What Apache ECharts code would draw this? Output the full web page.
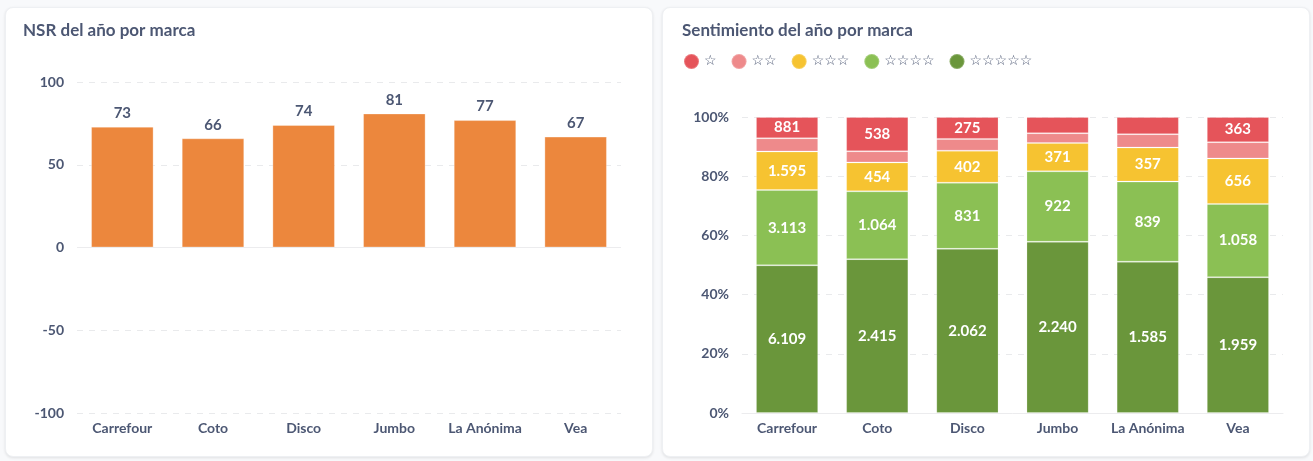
<!DOCTYPE html>
<html>
<head>
<meta charset="utf-8">
<script src="https://cdn.jsdelivr.net/npm/echarts@6/dist/echarts.min.js"></script>
<style>
  html, body { margin: 0; padding: 0; width: 1313px; height: 461px; overflow: hidden; background: #f8f9fb; font-family: Lato, sans-serif; }
  .card { position: absolute; top: 7px; width: 648px; height: 450px; background: #fff; border-radius: 8px;
          box-shadow: 0 1px 3px rgba(0,0,0,0.10); border: 1px solid #eef0f3; box-sizing: border-box; }
  #c1 { left: 5px; }
  #c2 { left: 662px; }
  .chart { position: absolute; left: -1px; top: -1px; width: 648px; height: 450px; }
</style>
</head>
<body>
<div class="card" id="c1"><div class="chart" id="left"></div></div>
<div class="card" id="c2"><div class="chart" id="right"></div></div>
<script>
const categories = ['Carrefour', 'Coto', 'Disco', 'Jumbo', 'La Anónima', 'Vea'];
const nsr = [73, 66, 74, 81, 77, 67];
const nsrTicks = [-100, -50, 0, 50, 100];

const starNames = ['☆', '☆☆', '☆☆☆', '☆☆☆☆', '☆☆☆☆☆'];
const star1 = [881, 538, 275, 212, 180, 363];
const star2 = [545, 175, 148, 128, 140, 235];
const star3 = [1595, 454, 402, 371, 357, 656];
const star4 = [3113, 1064, 831, 922, 839, 1058];
const star5 = [6109, 2415, 2062, 2240, 1585, 1959];
const pctTicks = [0, 20, 40, 60, 80, 100];

const textColor = '#4C5773';
const font = 'Lato, sans-serif';
function fmt(n) { return String(n).replace(/\B(?=(\d{3})+(?!\d))/g, '.'); }

// ---------- Left chart ----------
const left = echarts.init(document.getElementById('left'), null, { renderer: 'canvas' });
left.setOption({
  animation: false,
  textStyle: { fontFamily: font },
  title: { text: 'NSR del año por marca', left: 18, top: 15, padding: 0,
           textStyle: { fontFamily: font, fontSize: 17, fontWeight: 'bold', color: textColor } },
  grid: { left: 72, right: 32, top: 75, bottom: 44 },
  xAxis: {
    type: 'category', data: categories,
    axisLine: { show: false }, axisTick: { show: false },
    axisLabel: { interval: 0, color: textColor, fontFamily: font, fontSize: 14, fontWeight: 'bold', margin: 8 }
  },
  yAxis: {
    type: 'value', min: nsrTicks[0], max: nsrTicks[nsrTicks.length - 1], interval: 50,
    axisLine: { show: false }, axisTick: { show: false },
    axisLabel: { color: textColor, fontFamily: font, fontSize: 14, fontWeight: 'bold', margin: 13 },
    splitLine: { lineStyle: { type: [6, 6], color: '#e9eaec', width: 1 } }
  },
  series: [{
    type: 'bar', data: nsr, barCategoryGap: '31%',
    itemStyle: { color: '#EC873D', borderColor: 'rgba(255,255,255,0.3)', borderWidth: 1 },
    label: { show: true, position: 'top', color: textColor, fontFamily: font, fontSize: 15, fontWeight: 'bold', distance: 6 },
    markLine: {
      silent: true, symbol: 'none', label: { show: false },
      lineStyle: { type: 'solid', color: '#ececee', width: 1 },
      data: [{ yAxis: 0 }]
    }
  }]
});

// ---------- Right chart ----------
const raw = [star5, star4, star3, star2, star1];
const names = [starNames[4], starNames[3], starNames[2], starNames[1], starNames[0]];
const colors = ['#6A963B', '#8BC054', '#F6C331', '#EE8A8B', '#E5545A'];
const totals = categories.map((_, i) => raw.reduce((s, arr) => s + arr[i], 0));

const right = echarts.init(document.getElementById('right'), null, { renderer: 'canvas' });
right.setOption({
  animation: false,
  textStyle: { fontFamily: font },
  title: { text: 'Sentimiento del año por marca', left: 20, top: 15, padding: 0,
           textStyle: { fontFamily: font, fontSize: 17, fontWeight: 'bold', color: textColor } },
  legend: {
    data: starNames, left: 21, top: 46, padding: 0, icon: 'circle', itemWidth: 15, itemHeight: 15, itemGap: 14,
    textStyle: { color: textColor, fontSize: 14, fontFamily: 'DejaVu Sans' }
  },
  grid: { left: 80, right: 27, top: 110, bottom: 44 },
  xAxis: {
    type: 'category', data: categories,
    axisLine: { show: true, lineStyle: { color: '#ececee' } }, axisTick: { show: false },
    axisLabel: { interval: 0, color: textColor, fontFamily: font, fontSize: 14, fontWeight: 'bold', margin: 8 }
  },
  yAxis: {
    type: 'value', min: pctTicks[0], max: pctTicks[pctTicks.length - 1], interval: 20,
    axisLine: { show: false }, axisTick: { show: false },
    axisLabel: { color: textColor, fontFamily: font, fontSize: 14, fontWeight: 'bold', margin: 13, formatter: '{value}%' },
    splitLine: { lineStyle: { type: [6, 6], color: '#e9eaec', width: 1 } }
  },
  series: raw.map((arr, k) => ({
    name: names[k], type: 'bar', stack: 'total', barCategoryGap: '31%',
    itemStyle: { color: colors[k], borderColor: 'rgba(255,255,255,0.2)', borderWidth: 1 },
    data: arr.map((v, i) => ({ value: v / totals[i] * 100, raw: v })),
    label: {
      show: true, position: 'inside', color: '#fff', fontFamily: font, fontSize: 15, fontWeight: 'bold',
      formatter: p => (p.value >= 6.5 ? fmt(p.data.raw) : '')
    }
  }))
});
</script>
</body>
</html>
